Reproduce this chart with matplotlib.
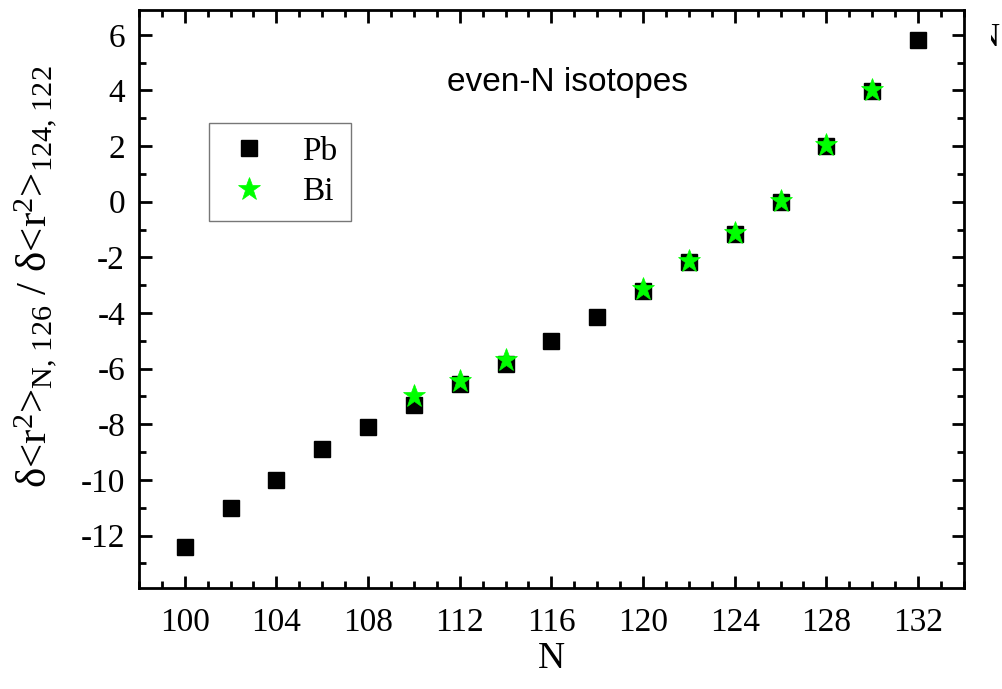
import matplotlib
matplotlib.use('Agg')
import matplotlib.pyplot as plt
from matplotlib.ticker import MultipleLocator
from matplotlib.transforms import Bbox, TransformedBbox

# Werte
n_pb = [100, 102, 104, 106, 108, 110, 112, 114, 116, 118, 120, 122, 124, 126, 128, 130, 132]
pb = [-12.42, -11.0, -10.0, -8.88, -8.08, -7.30, -6.57, -5.82, -5.02, -4.13,
      -3.22, -2.15, -1.15, 0.0, 2.0, 3.98, 5.8]

n_bi = [110, 112, 114, 120, 122, 124, 126, 128, 130]
bi = [-6.98, -6.44, -5.69, -3.15, -2.12, -1.12, 0.02, 2.05, 4.02]

plt.rcParams['font.family'] = ['Liberation Serif', 'DejaVu Serif']
plt.rcParams['mathtext.fontset'] = 'custom'
plt.rcParams['mathtext.rm'] = 'Liberation Serif'
plt.rcParams['mathtext.it'] = 'Liberation Serif:italic'
plt.rcParams['axes.unicode_minus'] = False

fig = plt.figure(figsize=(10.03, 6.89), dpi=100)
ax = fig.add_axes([0.1385, 0.146, 0.8225, 0.839])

ax.plot(n_pb, pb, 's', color='black', markersize=11, label='Pb', zorder=3)
ax.plot(n_bi, bi, '*', color='#00ff00', markersize=17, markeredgewidth=0.5,
        label='Bi', zorder=4)

ax.set_xlim(98, 134)
ax.set_ylim(-13.9, 6.88)
ax.xaxis.set_major_locator(MultipleLocator(4))
ax.xaxis.set_minor_locator(MultipleLocator(1))
ax.yaxis.set_major_locator(MultipleLocator(2))
ax.yaxis.set_minor_locator(MultipleLocator(1))
ax.tick_params(which='both', direction='in', top=True, right=True, width=2,
               labelsize=24, pad=10)
ax.tick_params(axis='x', pad=14)
ax.tick_params(which='major', length=9)
ax.tick_params(which='minor', length=5)
for s in ax.spines.values():
    s.set_linewidth(2)

ax.set_xlabel('N', fontsize=27, labelpad=2)
ax.set_ylabel(r'δ<r$^2$>$_{\mathrm{N,\,126}}$ / δ<r$^2$>$_{\mathrm{124,\,122}}$',
              fontsize=31)
ax.yaxis.set_label_coords(-0.097, 0.54)

ax.text(0.52, 0.876, 'even-N isotopes', transform=ax.transAxes, ha='center',
        va='center', fontsize=24, family='Liberation Sans')

leg = ax.legend(loc='upper left', bbox_to_anchor=(0.085, 0.805), borderaxespad=0,
                fontsize=24, fancybox=False, edgecolor='#555555',
                handletextpad=0.8, borderpad=0.4, labelspacing=0.3,
                handlelength=1.6)
leg.get_frame().set_linewidth(1)

# abgeschnittener Buchstabe am rechten Rand
t = fig.text(0.985, 0.945, 'N', fontsize=24, ha='center', va='center')
t.set_clip_box(TransformedBbox(Bbox([[0.988, 0.85], [1.0, 1.0]]), fig.transFigure))
t.set_clip_on(True)

fig.savefig('out.png', dpi=100)
